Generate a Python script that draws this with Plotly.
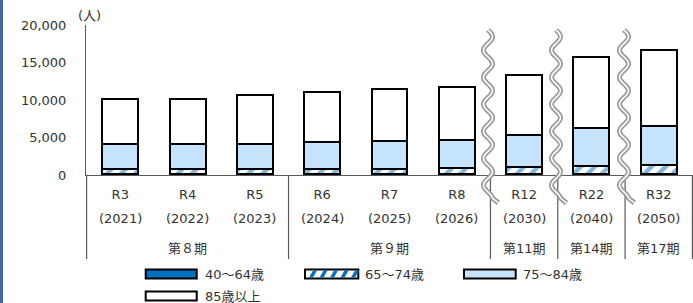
import numpy as np
import plotly.graph_objects as go

# ---- data ----
categories = ["R3", "R4", "R5", "R6", "R7", "R8", "R12", "R22", "R32"]
years = ["(2021)", "(2022)", "(2023)", "(2024)", "(2025)", "(2026)", "(2030)", "(2040)", "(2050)"]
period_labels = ["第８期", "第９期", "第11期", "第14期", "第17期"]
period_members = [["R3", "R4", "R5"], ["R6", "R7", "R8"], ["R12"], ["R22"], ["R32"]]

series_names = ["40～64歳", "65～74歳", "75～84歳", "85歳以上"]
v_40_64 = [150, 150, 150, 150, 150, 150, 160, 170, 180]
v_65_74 = [650, 650, 650, 670, 700, 740, 910, 1070, 1150]
v_75_84 = [3330, 3330, 3380, 3540, 3680, 3820, 4220, 5030, 5250]
v_85 = [5970, 6040, 6450, 6670, 6900, 7060, 8040, 9500, 10090]

y_ticks = [0, 5000, 10000, 15000, 20000]

# ---- styling ----
W, H = 693, 303
L, R, T, B = 86, 0, 25, 128
PW, PH = W - L - R, H - T - B
FONT = "DejaVu Sans, Noto Sans CJK JP, sans-serif"
TXT = "#333333"
AXC = "#595959"
C40 = "#0070C0"
C75 = "#C5E3FA"


def py(ypix):
    return (H - B - ypix) / PH


def px(xpix):
    return (xpix - L) / PW


fig = go.Figure()
line = dict(color="black", width=2)
fig.add_trace(go.Bar(x=categories, y=v_40_64, name=series_names[0],
                     marker=dict(color=C40, line=line)))
fig.add_trace(go.Bar(x=categories, y=v_65_74, name=series_names[1],
                     marker=dict(color="white", line=line,
                                 pattern=dict(shape="/", fgcolor=C40, bgcolor="white",
                                              size=10, solidity=0.45))))
fig.add_trace(go.Bar(x=categories, y=v_75_84, name=series_names[2],
                     marker=dict(color=C75, line=line)))
fig.add_trace(go.Bar(x=categories, y=v_85, name=series_names[3],
                     marker=dict(color="white", line=line)))

fig.update_layout(
    width=W, height=H, barmode="stack", bargap=0.466,
    margin=dict(l=L, r=R, t=T, b=B, pad=0, autoexpand=False),
    plot_bgcolor="white", paper_bgcolor="white",
    showlegend=False,
    font=dict(family=FONT, size=13, color=TXT),
)
fig.update_yaxes(range=[0, 20000], tickvals=y_ticks, tickformat=",",
                 showgrid=False, zeroline=False, showline=True, linecolor=AXC,
                 linewidth=1, ticks="", ticklabelstandoff=16, automargin=False,
                 tickfont=dict(family=FONT, size=13, color=TXT))
fig.update_xaxes(type="category", showline=True, linecolor=AXC, linewidth=1,
                 ticks="", ticklabelstandoff=7, showgrid=False, automargin=False,
                 tickfont=dict(family=FONT, size=13, color=TXT))

shapes = []
annotations = []

# year row
for c, yr in zip(categories, years):
    annotations.append(dict(x=c, xref="x", y=py(218), yref="paper", text=yr,
                            showarrow=False, font=dict(family=FONT, size=13, color=TXT),
                            xanchor="center", yanchor="middle"))

# period group labels and separators
idx = 0
bounds = [-0.5]
for lab, mem in zip(period_labels, period_members):
    n = len(mem)
    center = idx + (n - 1) / 2
    annotations.append(dict(x=center, xref="x", y=py(248), yref="paper", text=lab,
                            showarrow=False, font=dict(family=FONT, size=13, color=TXT),
                            xanchor="center", yanchor="middle"))
    idx += n
    bounds.append(idx - 0.5)
for bnd in bounds:
    shapes.append(dict(type="line", xref="x", yref="paper", x0=bnd, x1=bnd,
                       y0=0, y1=py(259), line=dict(color=AXC, width=1.2)))

# unit label
annotations.append(dict(x=px(89), xref="paper", y=py(15), yref="paper", text="(人)",
                        showarrow=False, font=dict(family=FONT, size=13, color=TXT),
                        xanchor="center", yanchor="middle"))

# squiggle (axis break) marks
for cx in [488, 556, 624]:
    ys = np.linspace(30, 198, 120)
    xs = cx + 4.5 * np.sin(2 * np.pi * (ys - 30) / 27.0)
    xs = np.append(xs, xs[-1] + 6)
    ys = np.append(ys, 203)
    pts = [(px(a), py(b)) for a, b in zip(xs, ys)]
    path = "M " + " L ".join(f"{a:.5f},{b:.5f}" for a, b in pts)
    shapes.append(dict(type="path", xref="paper", yref="paper", path=path,
                       line=dict(color="#9A9A9A", width=5), layer="above"))
    shapes.append(dict(type="path", xref="paper", yref="paper", path=path,
                       line=dict(color="white", width=1.6), layer="above"))

# manual legend (Excel style)
leg_items = [
    (series_names[0], 145.7, 196.7, 203, 274, dict(fillcolor=C40)),
    (series_names[1], 305, 358.3, 362.7, 274, dict(fillcolor="white")),
    (series_names[2], 464, 515.7, 521, 274, dict(fillcolor=C75)),
    (series_names[3], 145.7, 196.7, 203, 296, dict(fillcolor="white")),
]
for name, x0, x1, xt, yc, fill in leg_items:
    shapes.append(dict(type="rect", xref="paper", yref="paper",
                       x0=px(x0), x1=px(x1), y0=py(yc + 4.5), y1=py(yc - 4.5),
                       line=dict(color="black", width=2), **fill))
    annotations.append(dict(x=px(xt), xref="paper", y=py(yc), yref="paper", text=name,
                            showarrow=False, font=dict(family=FONT, size=13, color=TXT),
                            xanchor="left", yanchor="middle"))
# hatch stripes for 65-74 legend symbol
for k in range(5):
    sx = 309 + k * 10.5
    shapes.append(dict(type="path", xref="paper", yref="paper",
                       path=f"M {px(sx):.5f},{py(277.5):.5f} L {px(sx+4):.5f},{py(277.5):.5f} "
                            f"L {px(sx+8):.5f},{py(270.5):.5f} L {px(sx+4):.5f},{py(270.5):.5f} Z",
                       fillcolor=C40, line=dict(width=0)))

# left blue border strip
shapes.append(dict(type="rect", xref="paper", yref="paper", x0=px(0), x1=px(3),
                   y0=py(H), y1=py(0), fillcolor="#44679F", line=dict(width=0)))

fig.update_layout(shapes=shapes, annotations=annotations)
fig.write_html("out.html", config={"displayModeBar": False},
               post_script="document.body.style.margin='0';document.body.style.overflow='hidden';")
